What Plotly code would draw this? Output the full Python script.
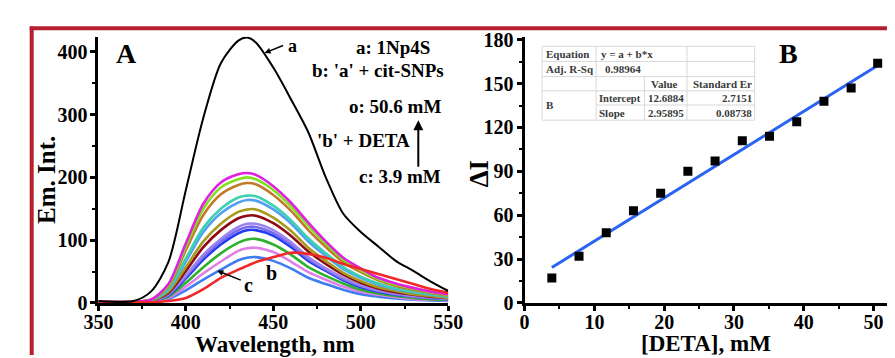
import plotly.graph_objects as go

W, H = 895, 358

# ---------------- Panel A data ----------------
wavelength = [350, 370, 380, 390, 400, 410, 420, 430, 435, 440, 450, 460, 470, 480, 490, 500, 510, 520, 530, 540, 550]
curve_a = [3, 3, 18, 65, 180, 295, 382, 418, 423, 415, 375, 325, 272, 200, 142, 113, 90, 67, 51, 34, 19]
curve_b = [1, 1, 1, 3, 8, 22, 40, 53, 59, 65, 73, 80, 78, 72, 62, 54, 46, 38, 30, 22, 16]
curve_c = [1, 1, 2, 6, 20, 37, 53, 68, 72, 73, 67, 55, 40, 30, 21, 14, 10, 7, 5, 4, 3]
curve_d = [1, 1, 2, 8, 26, 47, 66, 83, 87, 88, 81, 66, 49, 37, 26, 18, 13, 9, 6, 5, 4]
curve_e = [1, 1, 3, 10, 32, 57, 79, 96, 101, 102, 93, 77, 57, 43, 31, 21, 15, 11, 8, 6, 5]
curve_f = [2, 2, 3, 12, 39, 69, 93, 111, 116, 116, 107, 89, 67, 51, 36, 25, 18, 13, 10, 8, 6]
curve_g = [2, 2, 3, 13, 42, 73, 98, 116, 121, 121, 111, 93, 70, 53, 38, 27, 19, 14, 10, 8, 6]
curve_h = [2, 2, 3, 14, 44, 77, 102, 121, 126, 126, 116, 97, 73, 55, 40, 28, 20, 15, 11, 9, 7]
curve_i = [2, 2, 4, 16, 51, 89, 116, 135, 139, 139, 127, 107, 82, 62, 45, 32, 23, 17, 13, 10, 8]
curve_j = [2, 2, 4, 18, 57, 98, 126, 145, 149, 149, 136, 115, 88, 67, 48, 35, 25, 19, 14, 11, 8]
curve_k = [2, 2, 4, 21, 66, 113, 143, 160, 164, 163, 149, 127, 98, 75, 54, 40, 29, 22, 17, 13, 10]
curve_l = [2, 2, 4, 22, 71, 120, 150, 168, 171, 170, 155, 132, 103, 79, 57, 42, 31, 23, 18, 14, 10]
curve_m = [2, 2, 5, 26, 84, 140, 173, 188, 191, 189, 172, 147, 116, 89, 65, 49, 36, 27, 21, 16, 12]
curve_n = [2, 2, 5, 28, 90, 150, 184, 197, 200, 197, 180, 154, 123, 94, 69, 52, 38, 29, 23, 17, 13]
curve_o = [2, 2, 5, 30, 95, 158, 192, 205, 207, 204, 186, 160, 128, 98, 72, 55, 40, 31, 24, 18, 14]

family_curves = [curve_c, curve_d, curve_e, curve_f, curve_g, curve_h, curve_i,
                 curve_j, curve_k, curve_l, curve_m, curve_n, curve_o]
family_colors = ["#3f7ef0", "#e080e6", "#2fb12f", "#1f3cf0", "#7868ee", "#9a84f0", "#8e0a14",
                 "#a89a1c", "#52a0f2", "#3fd0b2", "#c4782c", "#80e020", "#e020e0"]

# ---------------- Panel B data ----------------
deta_mM = [3.9, 7.8, 11.7, 15.6, 19.5, 23.4, 27.3, 31.2, 35.1, 39.0, 42.9, 46.8, 50.6]
delta_I = [17, 32, 48, 63, 75, 90, 97, 111, 114, 124, 138, 147, 164]
fit_x = [3.9, 50.6]
fit_y = [24.2, 162.4]

A_xticks = [350, 400, 450, 500, 550]
A_yticks = [0, 100, 200, 300, 400]
B_xticks = [0, 10, 20, 30, 40, 50]
B_yticks = [0, 30, 60, 90, 120, 150, 180]

SERIF = "Liberation Serif"


def px(x):
    return x / W


def py(y):
    return 1 - y / H


fig = go.Figure()

for vals, col in zip(family_curves, family_colors):
    fig.add_trace(go.Scatter(x=wavelength, y=vals, mode="lines",
                             line=dict(color=col, width=2.6, shape="spline", smoothing=0.8),
                             xaxis="x", yaxis="y", showlegend=False, hoverinfo="skip"))
fig.add_trace(go.Scatter(x=wavelength, y=curve_b, mode="lines",
                         line=dict(color="#f02828", width=2.6, shape="spline", smoothing=0.8),
                         xaxis="x", yaxis="y", showlegend=False))
fig.add_trace(go.Scatter(x=wavelength, y=curve_a, mode="lines",
                         line=dict(color="black", width=2, shape="spline", smoothing=0.8),
                         xaxis="x", yaxis="y", showlegend=False))

fig.add_trace(go.Scatter(x=fit_x, y=fit_y, mode="lines",
                         line=dict(color="#2b63f2", width=3),
                         xaxis="x2", yaxis="y2", showlegend=False))
fig.add_trace(go.Scatter(x=deta_mM, y=delta_I, mode="markers",
                         marker=dict(symbol="square", size=9, color="black"),
                         xaxis="x2", yaxis="y2", showlegend=False))

tickfont = dict(family=SERIF, size=20, color="black", weight="bold")
axis_common = dict(showline=True, linewidth=3, linecolor="black", ticks="outside",
                   ticklen=5, tickwidth=2.5, tickcolor="black", showgrid=False,
                   zeroline=False, tickfont=tickfont, mirror=False)

y_dom = [py(303), py(22)]
fig.update_layout(
    width=W, height=H, margin=dict(l=0, r=0, t=0, b=0),
    paper_bgcolor="white", plot_bgcolor="white",
    xaxis=dict(domain=[px(78), px(440)], range=[350, 550], tickvals=A_xticks,
               minor=dict(dtick=25, ticks="outside", ticklen=3, tickwidth=2, tickcolor="black"),
               anchor="y", ticklabelstandoff=-6, **axis_common),
    yaxis=dict(domain=y_dom, range=[0, 424], tickvals=A_yticks,
               minor=dict(dtick=50, ticks="outside", ticklen=3, tickwidth=2, tickcolor="black"),
               anchor="x", ticklabelstandoff=-1, **axis_common),
    xaxis2=dict(domain=[px(519), 1.0], range=[0, 52.08], tickvals=B_xticks,
                minor=dict(dtick=5, ticks="outside", ticklen=3, tickwidth=2, tickcolor="black"),
                anchor="y2", ticklabelstandoff=-6, **axis_common),
    yaxis2=dict(domain=y_dom, range=[0, 182], tickvals=B_yticks,
                minor=dict(dtick=15, ticks="outside", ticklen=3, tickwidth=2, tickcolor="black"),
                anchor="x2", ticklabelstandoff=-1, **axis_common),
)

shapes = []
# red frame
frame_red = "#b4202e"
shapes.append(dict(type="line", xref="paper", yref="paper", x0=px(7), x1=1.0, y0=py(13), y1=py(13),
                   line=dict(color=frame_red, width=4)))
shapes.append(dict(type="line", xref="paper", yref="paper", x0=px(9), x1=px(9), y0=py(11), y1=0,
                   line=dict(color=frame_red, width=4)))

# table grid
tl, tr, tt, tb = 537, 757, 32, 110
rows = [32, 48, 64, 79, 94, 110]
grid = dict(color="#d8d8d8", width=1)
shapes.append(dict(type="rect", xref="paper", yref="paper", x0=px(tl), x1=px(tr), y0=py(tb), y1=py(tt),
                   line=grid, fillcolor="white"))
for r in rows[1:-1]:
    x0 = 593 if r == 94 else tl
    shapes.append(dict(type="line", xref="paper", yref="paper", x0=px(x0), x1=px(tr), y0=py(r), y1=py(r), line=grid))
for c in [593, 687]:
    shapes.append(dict(type="line", xref="paper", yref="paper", x0=px(c), x1=px(c), y0=py(tb), y1=py(tt), line=grid))
shapes.append(dict(type="line", xref="paper", yref="paper", x0=px(643), x1=px(643), y0=py(tb), y1=py(64), line=grid))
fig.update_layout(shapes=shapes)

ann = []


def text(x, y, s, size=15, xanchor="center", color="black", yanchor="middle", textangle=0, bold=True):
    ann.append(dict(xref="paper", yref="paper", x=px(x), y=py(y), text=(f"<b>{s}</b>" if bold else s),
                    showarrow=False, xanchor=xanchor, yanchor=yanchor, textangle=textangle,
                    font=dict(family=SERIF, size=size, color=color)))


def arrow(hx, hy, tx, ty, width=1.5, size=1.0):
    ann.append(dict(xref="paper", yref="paper", x=px(hx), y=py(hy), ax=tx - hx, ay=ty - hy,
                    axref="pixel", ayref="pixel", text="", showarrow=True, arrowhead=2,
                    arrowsize=size, arrowwidth=width, arrowcolor="black"))


# Panel A labels
text(107, 40, "A", size=28)
text(383, 33, "a: 1Np4S", size=19)
text(367, 58, "b: 'a' + cit-SNPs", size=19)
text(385, 96, "o: 50.6 mM", size=19)
text(352, 132, "'b' + DETA", size=19)
text(390, 170, "c: 3.9 mM", size=19)
arrow(409, 110, 409, 158, width=2, size=1.0)
text(279, 32, "a", size=18)
arrow(250, 39, 270, 31, width=1.5, size=0.8)
text(257, 271, "b", size=20)
text(233, 284, "c", size=20)
arrow(201, 269, 226, 279, width=1.5, size=0.8)
text(261, 347, "Wavelength, nm", size=23)
text(25, 173, "Em. Int.", size=25, textangle=-90)

# Panel B labels
text(792, 40, "B", size=28)
text(707, 346, "[DETA], mM", size=23)
text(472, 167, "ΔI", size=27, textangle=-90)

# table text
tc = "#3a3a3a"
ts = 11
text(539, 40, "Equation", size=ts, xanchor="left", color=tc)
text(596, 40, "y = a + b*x", size=ts, xanchor="left", color=tc)
text(539, 56, "Adj. R-Sq", size=ts, xanchor="left", color=tc)
text(600, 56, "0.98964", size=ts, xanchor="left", color=tc)
text(648, 72, "Value", size=ts, xanchor="left", color=tc)
text(756, 72, "Standard Er", size=ts, xanchor="right", color=tc)
text(539, 94, "B", size=ts, xanchor="left", color=tc)
text(594, 87, "Intercept", size=10.5, xanchor="left", color=tc)
text(686, 87, "12.6884", size=ts, xanchor="right", color=tc)
text(756, 87, "2.7151", size=ts, xanchor="right", color=tc)
text(594, 102, "Slope", size=ts, xanchor="left", color=tc)
text(686, 102, "2.95895", size=ts, xanchor="right", color=tc)
text(756, 102, "0.08738", size=ts, xanchor="right", color=tc)

fig.update_layout(annotations=ann)
fig.write_html("out.html")
